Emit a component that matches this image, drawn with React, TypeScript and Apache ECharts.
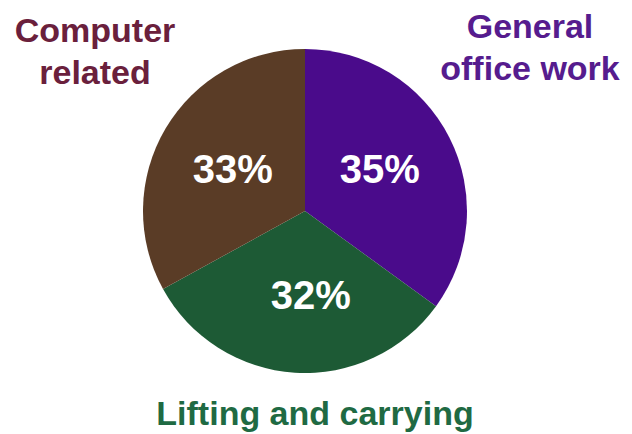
import React, { useEffect, useRef } from "react";
import * as echarts from "echarts";

const categories = ["General office work", "Lifting and carrying", "Computer related"];
const values = [35, 32, 33];
const sliceColors = ["#4a0b8b", "#1d5a35", "#5a3c26"];
const outerLabelLines = [["General", "office work"], ["Lifting and carrying"], ["Computer", "related"]];
const outerLabelColors = ["#561c8e", "#1f6a43", "#6a203c"];

export default function App() {
  const ref = useRef<HTMLDivElement>(null);
  useEffect(() => {
    document.body.style.margin = "0";
    const chart = echarts.init(ref.current!, null, { renderer: "svg" });
    const font = "'Liberation Sans', Arial, sans-serif";
    const labelPos = [
      { x: 530, y: 5 },
      { x: 315, y: 392 },
      { x: 95, y: 9 },
    ];
    const labelOffsets = [[0, -4], [11, 0], [0, 1]];
    chart.setOption({
      animation: false,
      backgroundColor: "#ffffff",
      series: [
        {
          type: "pie",
          center: [305, 211],
          radius: 162,
          startAngle: 90,
          clockwise: true,
          silent: true,
          data: categories.map((name, i) => ({
            name,
            value: values[i],
            itemStyle: { color: sliceColors[i] },
            label: { offset: labelOffsets[i] },
          })),
          itemStyle: { borderWidth: 0 },
          label: {
            show: true,
            position: "inner",
            formatter: "{c}%",
            color: "#ffffff",
            fontSize: 40,
            fontWeight: "bold",
            fontFamily: font,
          },
          labelLine: { show: false },
        },
      ],
      graphic: outerLabelLines.map((lines, i) => ({
        type: "text",
        x: labelPos[i].x,
        y: labelPos[i].y,
        style: {
          text: lines.join("\n"),
          fill: outerLabelColors[i],
          font: `bold 34px ${font}`,
          lineHeight: 42,
          align: "center",
          verticalAlign: "top",
        },
      })),
    });
    return () => chart.dispose();
  }, []);
  return <div ref={ref} style={{ width: 632, height: 434 }} />;
}
